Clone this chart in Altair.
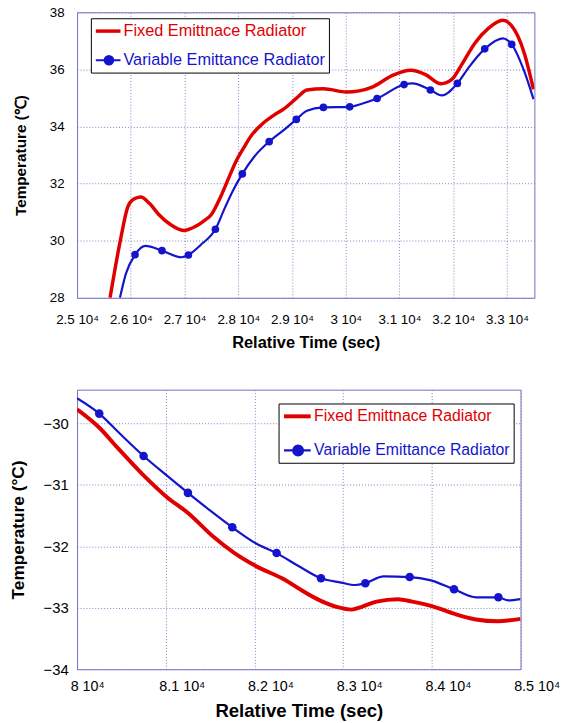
import altair as alt
import pandas as pd

FONT = "Liberation Sans"
RED = "#e00000"
BLUE = "#1414cc"
FRAME = "#6f6fc0"
GRID = "#8080c8"

SERIES = ["Fixed Emittnace Radiator", "Variable Emittance Radiator"]

# ---------------- top panel data ----------------
top_fixed_x = [25614, 25816, 25938, 26050, 26184, 26350, 26520, 26750, 26980, 27200,
               27350, 27500, 27650, 27800, 27950, 28100, 28250, 28450, 28650, 28850,
               29094, 29278, 29584, 30013, 30250, 30504, 30871, 31208, 31484, 31772,
               31974, 32158, 32402, 32647, 32923, 33077, 33322, 33493]
top_fixed_y = [28.0, 30.11, 31.15, 31.45, 31.53, 31.3, 30.92, 30.55, 30.36, 30.5,
               30.68, 30.92, 31.45, 32.1, 32.75, 33.25, 33.7, 34.1, 34.38, 34.62,
               35.01, 35.28, 35.32, 35.21, 35.25, 35.39, 35.79, 35.97, 35.82, 35.50,
               35.65, 36.17, 36.92, 37.43, 37.72, 37.55, 36.57, 35.30]

top_var_x = [25798, 25908, 26079, 26276, 26581, 26949, 27072, 27300, 27574, 27750,
             27900, 28075, 28300, 28575, 28850, 29080, 29278, 29584, 30074, 30300,
             30583, 31085, 31238, 31575, 31790, 32077, 32300, 32586, 32923, 33088,
             33322, 33493]
top_var_y = [28.0, 28.84, 29.51, 29.82, 29.65, 29.42, 29.50, 29.85, 30.40, 31.15,
             31.75, 32.34, 32.95, 33.47, 33.88, 34.25, 34.55, 34.67, 34.69, 34.80,
             34.98, 35.47, 35.51, 35.28, 35.09, 35.51, 36.10, 36.72, 37.09, 36.88,
             35.93, 34.96]

top_mk_x = [26079, 26581, 27072, 27574, 28075, 28575, 29080, 29584, 30074, 30583,
            31085, 31575, 32077, 32586, 33088]
top_mk_y = [29.51, 29.65, 29.50, 30.40, 32.34, 33.47, 34.25, 34.67, 34.69, 34.98,
            35.47, 35.28, 35.51, 36.72, 36.88]

top_x_ticks = [25000, 26000, 27000, 28000, 29000, 30000, 31000, 32000, 33000]
top_y_ticks = [28, 30, 32, 34, 36, 38]

# ---------------- bottom panel data ----------------
bot_fixed_x = [80000, 80252, 80453, 80733, 81014, 81254, 81534, 81775, 82015, 82336,
               82536, 82736, 82937, 83097, 83217, 83377, 83618, 83778, 84018, 84259,
               84499, 84740, 85000]
bot_fixed_y = [-29.77, -30.07, -30.39, -30.82, -31.20, -31.46, -31.84, -32.11, -32.32,
               -32.54, -32.72, -32.88, -32.99, -33.03, -32.98, -32.90, -32.86, -32.90,
               -32.98, -33.10, -33.19, -33.22, -33.18]

bot_var_x = [80000, 80250, 80493, 80750, 81014, 81250, 81494, 81750, 82015, 82250,
             82496, 82750, 82977, 83137, 83250, 83457, 83750, 83978, 84250, 84499,
             84750, 84860, 85000]
bot_var_y = [-29.59, -29.84, -30.18, -30.53, -30.85, -31.13, -31.41, -31.69, -31.95,
             -32.11, -32.32, -32.52, -32.59, -32.63, -32.60, -32.49, -32.50, -32.55,
             -32.70, -32.83, -32.83, -32.88, -32.86]

bot_mk_x = [80250, 80750, 81250, 81750, 82250, 82750, 83250, 83750, 84250, 84750]
bot_mk_y = [-29.84, -30.53, -31.13, -31.69, -32.11, -32.52, -32.60, -32.50, -32.70, -32.83]

bot_x_ticks = [80000, 81000, 82000, 83000, 84000, 85000]
bot_y_ticks = [-34, -33, -32, -31, -30]

IS_FIXED = f"datum.value == '{SERIES[0]}'"


def make_legend(lx, ly, fsize, row_pad, red_w, x0, x1, cx, r, lo):
    line_path = f"M{x0},0H{x1}"
    dot_path = (f"M{x0},0H{x1}M{cx - r:.3f},0A{r},{r},0,1,1,{cx + r:.3f},0"
                f"A{r},{r},0,1,1,{cx - r:.3f},0Z")
    return alt.Legend(
        title=None, orient="none", legendX=lx, legendY=ly, direction="vertical",
        fillColor="white", strokeColor="black", padding=3,
        labelFont=FONT, labelFontSize=fsize, labelOffset=lo, labelLimit=400,
        symbolSize=256, rowPadding=row_pad,
        symbolType={"expr": f"{IS_FIXED} ? '{line_path}' : '{dot_path}'"},
        symbolStrokeColor={"expr": f"{IS_FIXED} ? '{RED}' : '{BLUE}'"},
        symbolStrokeWidth={"expr": f"{IS_FIXED} ? {red_w} : 2"},
        symbolOpacity=1,
        labelColor={"expr": f"{IS_FIXED} ? '{RED}' : '{BLUE}'"},
    )


def panel(fx, fy, vx, vy, mx, my, xdom, ydom, xticks, yticks, w, h, legend, opts):
    lines = pd.DataFrame({
        "t": fx + vx,
        "temp": fy + vy,
        "series": [SERIES[0]] * len(fx) + [SERIES[1]] * len(vx),
    })
    marks = pd.DataFrame({"t": mx, "temp": my, "series": [SERIES[1]] * len(mx)})

    xaxis = alt.Axis(
        values=xticks, labelExpr="format(datum.value / 10000, '.1~f') + ' 10\u2074'",
        grid=True, gridDash=[1, 2], gridColor=GRID, gridWidth=1, domain=False, ticks=False,
        labelFont=FONT, labelFontSize=opts["xlab"], labelColor="black",
        labelPadding=opts["xlabpad"], labelFlush=False, labelOverlap=False,
        labelAlign=opts["xalign"], labelOffset=opts["xlaboff"],
        title="Relative Time (sec)", titleFont=FONT,
        titleFontSize=opts["xtitle"], titleFontWeight="bold", titleColor="black",
        titlePadding=opts["xtitlepad"],
    )
    yaxis = alt.Axis(
        values=yticks, grid=True, gridDash=[1, 2], gridColor=GRID, gridWidth=1,
        domain=False, ticks=False, labelFont=FONT, labelFontSize=opts["ylab"],
        labelColor="black", labelPadding=opts["ylabpad"], labelFlush=False,
        labelOverlap=False, title=opts["ytitle_text"], titleFont=FONT,
        titleFontSize=opts["ytitle"], titleFontWeight="bold", titleColor="black",
        titlePadding=opts["ytitlepad"],
    )
    x = alt.X("t:Q", scale=alt.Scale(domain=xdom, nice=False, zero=False), axis=xaxis)
    y = alt.Y("temp:Q", scale=alt.Scale(domain=ydom, nice=False, zero=False), axis=yaxis)
    cscale = alt.Scale(domain=SERIES, range=[RED, BLUE])

    # markers layer first so that its legend definition wins when legends are merged
    pts = alt.Chart(marks).mark_point(filled=True, opacity=1, size=opts["msize"], shape="circle").encode(
        x=x, y=y, color=alt.Color("series:N", scale=cscale, legend=legend),
    )
    line = alt.Chart(lines).mark_line(interpolate="monotone", clip=True).encode(
        x=x, y=y, color=alt.Color("series:N", scale=cscale, legend=None),
        strokeWidth=alt.StrokeWidth("series:N", scale=alt.Scale(domain=SERIES, range=[opts["redw"], 2.2]), legend=None),
    )
    return alt.layer(pts, line).properties(width=w, height=h)


top = panel(
    top_fixed_x, top_fixed_y, top_var_x, top_var_y, top_mk_x, top_mk_y,
    [25000, 33510], [28, 38], top_x_ticks, top_y_ticks, 463, 289,
    make_legend(14, 6, 16.5, 11, 3.5, -1.0, 2.125, 0.66, 0.54, 10),
    {"xlab": 13.5, "xlabpad": 15, "xalign": "center", "xlaboff": 0, "xtitle": 16.6, "xtitlepad": 9,
     "ylab": 13.5, "ylabpad": 13, "ytitle": 15.5, "ytitlepad": 21,
     "ytitle_text": "Temperature (\u2103)", "redw": 3.5, "msize": 60},
)

bottom = panel(
    bot_fixed_x, bot_fixed_y, bot_var_x, bot_var_y, bot_mk_x, bot_mk_y,
    [80000, 85000], [-34, -29.45], bot_x_ticks, bot_y_ticks, 449, 283,
    make_legend(204, 14, 16, 17, 4, -0.94, 2.44, 0.85, 0.62, 13),
    {"xlab": 14.5, "xlabpad": 11, "xalign": "left", "xlaboff": -7, "xtitle": 18.8, "xtitlepad": 8,
     "ylab": 15, "ylabpad": 9, "ytitle": 17.5, "ytitlepad": 16,
     "ytitle_text": "Temperature (\u00b0C)", "redw": 4, "msize": 75},
)

chart = alt.vconcat(top, bottom, spacing=37).resolve_scale(
    color="independent", strokeWidth="independent"
).resolve_legend(color="independent").properties(
    padding={"left": 9, "top": 0, "right": 5, "bottom": 0},
    background="white",
).configure_view(stroke=FRAME, strokeWidth=1)

chart.save("out.html", embed_options={"renderer": "svg", "actions": False})
